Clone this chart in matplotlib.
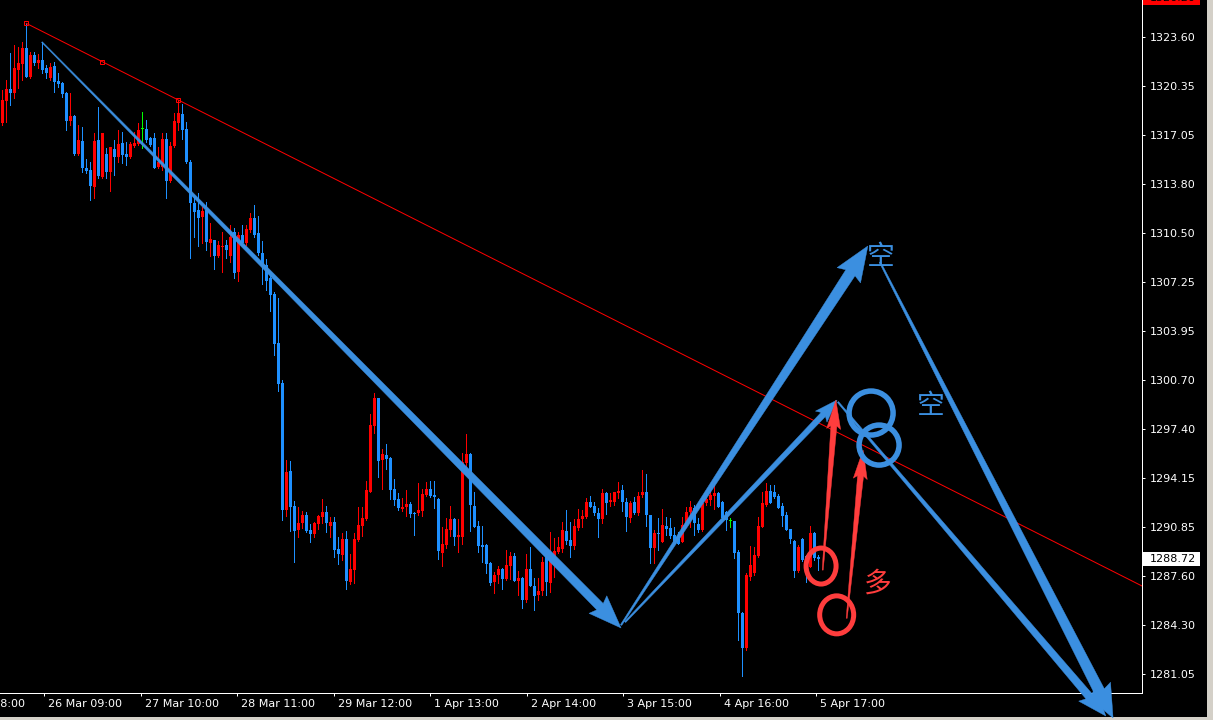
import matplotlib
matplotlib.use("Agg")
import matplotlib.pyplot as plt
from matplotlib.patches import Polygon, Ellipse, Rectangle
from matplotlib.transforms import IdentityTransform, blended_transform_factory
import numpy as np

plt.rcParams['font.family'] = ['DejaVu Sans']

# [Data] XAUUSD H1 candles, bar 0 = first visible bar
opens = [
    1317.83, 1319.32, 1320.12, 1319.84, 1321.39, 1321.77, 1322.84, 1320.95, 1322.40, 1321.88,
    1322.06, 1321.51, 1320.84, 1321.68, 1320.66, 1320.51, 1319.84, 1317.99, 1318.32, 1315.78,
    1316.65, 1314.83, 1314.71, 1313.56, 1316.72, 1314.27, 1315.76, 1314.60, 1316.10, 1315.56,
    1316.54, 1315.76, 1315.60, 1316.34, 1316.45, 1317.43, 1317.43, 1316.87, 1316.87, 1314.89,
    1314.93, 1316.78, 1314.00, 1316.32, 1317.83, 1318.45, 1317.45, 1315.27, 1312.53, 1312.04,
    1311.59, 1312.04, 1309.82, 1310.04, 1308.99, 1309.55, 1309.70, 1308.99, 1310.59, 1307.92,
    1310.37, 1309.82, 1310.71, 1311.53, 1310.53, 1309.19, 1308.37, 1307.48, 1306.43, 1303.18,
    1300.47, 1292.00, 1294.63, 1292.27, 1290.67, 1291.11, 1291.67, 1290.67, 1290.38, 1291.07,
    1291.55, 1291.89, 1290.95, 1291.18, 1289.40, 1289.00, 1290.06, 1287.21, 1288.00, 1290.00,
    1290.95, 1291.40, 1293.23, 1297.63, 1299.46, 1295.34, 1295.68, 1295.50, 1293.40, 1292.74,
    1292.09, 1292.22, 1292.40, 1291.80, 1291.78, 1291.95, 1293.00, 1293.40, 1293.00, 1292.74,
    1289.15, 1289.67, 1290.67, 1291.40, 1290.22, 1290.18, 1295.12, 1295.74, 1292.27, 1290.93,
    1289.66, 1289.66, 1288.44, 1287.17, 1287.66, 1288.06, 1287.39, 1288.28, 1288.93, 1287.28,
    1287.48, 1286.00, 1288.06, 1286.95, 1286.32, 1286.59, 1288.88, 1287.15, 1288.88, 1289.22,
    1289.40, 1290.60, 1290.00, 1289.60, 1290.80, 1291.40, 1291.55, 1292.56, 1292.27, 1291.82,
    1291.40, 1293.12, 1292.56, 1292.56, 1293.12, 1293.34, 1292.52, 1291.49, 1292.52, 1291.82,
    1293.00, 1293.23, 1291.67, 1289.44, 1290.49, 1289.88, 1290.93, 1290.78, 1290.33, 1290.11,
    1289.88, 1291.00, 1291.89, 1292.11, 1291.07, 1290.67, 1292.45, 1292.67, 1292.94, 1293.12,
    1292.56, 1291.89, 1291.27, 1291.27, 1289.22, 1285.14, 1282.76, 1287.55, 1287.81, 1288.93,
    1290.89, 1292.34, 1293.29, 1293.23, 1292.94, 1292.27, 1291.67, 1290.71, 1289.95, 1287.95,
    1290.04, 1288.93, 1288.22, 1290.49, 1288.88]
highs = [
    1320.06, 1320.73, 1322.51, 1323.06, 1322.95, 1323.28, 1324.51, 1322.62, 1322.62, 1322.44,
    1323.28, 1321.73, 1321.84, 1321.95, 1321.17, 1320.61, 1319.94, 1319.84, 1318.40, 1317.72,
    1317.61, 1315.45, 1315.27, 1317.17, 1318.94, 1317.17, 1316.16, 1316.27, 1316.72, 1317.39,
    1317.27, 1316.60, 1316.60, 1317.27, 1317.83, 1318.61, 1318.05, 1316.94, 1317.17, 1316.27,
    1317.17, 1317.17, 1316.60, 1318.50, 1319.39, 1319.10, 1317.90, 1315.38, 1313.04, 1313.16,
    1312.26, 1312.60, 1311.15, 1310.04, 1309.99, 1310.59, 1310.04, 1311.04, 1310.82, 1310.59,
    1311.04, 1311.04, 1311.82, 1312.38, 1311.64, 1309.99, 1308.77, 1307.70, 1306.58, 1306.14,
    1300.69, 1295.34, 1295.28, 1292.60, 1292.22, 1291.94, 1291.85, 1291.07, 1291.22, 1291.67,
    1292.74, 1292.27, 1291.51, 1291.55, 1290.18, 1290.45, 1290.60, 1289.06, 1290.45, 1292.22,
    1292.22, 1293.94, 1298.42, 1299.80, 1299.50, 1296.06, 1296.41, 1295.55, 1294.07, 1293.12,
    1292.78, 1293.34, 1292.56, 1291.89, 1293.79, 1293.40, 1293.89, 1293.94, 1293.94, 1292.80,
    1290.85, 1291.45, 1292.27, 1291.49, 1291.40, 1295.83, 1297.08, 1295.80, 1293.23, 1291.27,
    1290.93, 1289.73, 1288.50, 1287.88, 1288.26, 1288.15, 1289.33, 1289.18, 1289.15, 1287.95,
    1287.53, 1289.06, 1289.55, 1287.44, 1287.44, 1288.88, 1289.28, 1290.51, 1290.15, 1290.22,
    1291.18, 1292.00, 1291.22, 1291.40, 1292.05, 1292.00, 1292.78, 1292.94, 1292.56, 1292.11,
    1293.38, 1293.23, 1293.12, 1293.23, 1293.85, 1293.67, 1292.82, 1292.62, 1292.89, 1293.18,
    1294.67, 1294.41, 1291.70, 1290.67, 1291.45, 1292.05, 1291.55, 1291.45, 1290.89, 1290.55,
    1291.55, 1292.22, 1292.62, 1292.34, 1291.45, 1292.62, 1293.23, 1293.45, 1293.67, 1293.20,
    1292.60, 1291.92, 1291.49, 1291.30, 1289.33, 1285.17, 1287.77, 1289.60, 1289.55, 1291.55,
    1293.23, 1293.83, 1293.67, 1293.67, 1293.07, 1292.45, 1291.89, 1290.75, 1290.00, 1289.66,
    1290.11, 1289.00, 1290.93, 1290.55, 1289.00]
lows = [
    1317.72, 1317.94, 1319.06, 1319.50, 1320.17, 1320.73, 1320.95, 1320.84, 1321.73, 1321.51,
    1321.17, 1320.84, 1320.73, 1319.94, 1320.28, 1319.61, 1317.39, 1317.72, 1315.72, 1315.72,
    1314.60, 1314.49, 1312.71, 1312.82, 1314.16, 1314.16, 1314.16, 1313.31, 1314.38, 1315.27,
    1315.16, 1315.05, 1315.50, 1316.27, 1316.38, 1316.16, 1316.60, 1316.34, 1314.83, 1314.83,
    1314.71, 1312.86, 1313.93, 1316.27, 1317.39, 1316.78, 1315.16, 1308.82, 1310.26, 1309.66,
    1309.82, 1309.37, 1308.99, 1308.10, 1308.92, 1307.92, 1308.82, 1308.59, 1307.48, 1307.32,
    1309.70, 1309.70, 1310.59, 1310.26, 1309.04, 1307.10, 1306.70, 1305.32, 1302.36, 1299.97,
    1291.33, 1291.62, 1290.62, 1288.55, 1290.22, 1290.78, 1290.55, 1289.88, 1290.18, 1290.73,
    1291.11, 1290.55, 1290.18, 1288.88, 1288.40, 1288.66, 1286.72, 1287.06, 1287.15, 1289.95,
    1290.29, 1291.33, 1293.23, 1297.17, 1294.23, 1293.40, 1294.74, 1292.74, 1292.34, 1292.00,
    1291.94, 1291.60, 1291.56, 1290.33, 1291.67, 1291.62, 1292.94, 1292.85, 1292.16, 1288.73,
    1288.28, 1289.44, 1290.27, 1289.66, 1289.22, 1289.73, 1294.83, 1290.62, 1290.88, 1289.22,
    1288.55, 1287.77, 1286.99, 1286.48, 1287.11, 1286.70, 1287.35, 1287.37, 1287.28, 1286.32,
    1285.44, 1285.84, 1286.95, 1285.32, 1286.00, 1286.32, 1286.32, 1286.54, 1287.55, 1289.11,
    1289.18, 1289.73, 1288.88, 1289.40, 1290.67, 1290.89, 1291.45, 1292.22, 1291.67, 1290.22,
    1291.11, 1291.73, 1292.27, 1292.34, 1292.78, 1291.96, 1290.60, 1291.22, 1291.71, 1291.67,
    1292.89, 1290.93, 1288.48, 1288.44, 1289.33, 1289.85, 1290.33, 1290.11, 1289.78, 1289.73,
    1289.85, 1290.88, 1290.88, 1290.33, 1290.55, 1290.62, 1292.34, 1292.34, 1292.05, 1292.18,
    1291.33, 1290.67, 1290.89, 1288.78, 1283.32, 1280.91, 1282.65, 1287.33, 1287.66, 1288.88,
    1290.85, 1292.27, 1292.45, 1292.78, 1292.11, 1290.93, 1290.67, 1289.82, 1287.55, 1287.88,
    1288.62, 1287.21, 1288.20, 1288.66, 1287.99]
closes = [
    1319.39, 1320.12, 1319.84, 1321.51, 1321.84, 1322.84, 1320.95, 1322.40, 1321.84, 1322.06,
    1321.39, 1321.17, 1321.61, 1320.61, 1320.44, 1319.79, 1317.99, 1318.32, 1315.78, 1316.72,
    1314.83, 1314.67, 1313.66, 1316.65, 1314.31, 1317.17, 1314.60, 1316.27, 1315.60, 1316.45,
    1315.72, 1315.60, 1316.43, 1316.54, 1317.39, 1317.43, 1316.72, 1316.38, 1314.87, 1315.27,
    1316.78, 1314.00, 1316.32, 1317.99, 1318.50, 1317.39, 1315.23, 1312.53, 1311.93, 1311.53,
    1311.98, 1309.92, 1310.08, 1308.99, 1309.70, 1309.64, 1309.37, 1310.26, 1307.85, 1310.37,
    1309.82, 1310.77, 1311.53, 1310.37, 1309.15, 1308.37, 1307.30, 1306.36, 1303.09, 1300.42,
    1292.00, 1294.56, 1292.22, 1290.62, 1291.11, 1291.67, 1290.62, 1290.40, 1291.11, 1291.60,
    1291.89, 1291.11, 1291.22, 1289.33, 1289.06, 1290.06, 1287.26, 1288.06, 1290.06, 1291.00,
    1291.49, 1293.34, 1297.68, 1299.46, 1295.30, 1295.74, 1295.41, 1293.34, 1292.67, 1292.11,
    1292.20, 1292.40, 1291.73, 1291.75, 1292.00, 1293.07, 1293.40, 1292.96, 1292.85, 1289.28,
    1289.73, 1290.73, 1291.40, 1290.22, 1290.33, 1295.23, 1295.72, 1292.34, 1290.89, 1289.60,
    1289.55, 1288.40, 1287.15, 1287.66, 1288.06, 1287.39, 1288.33, 1288.93, 1287.28, 1287.48,
    1286.00, 1288.06, 1286.95, 1286.28, 1286.59, 1288.51, 1287.21, 1288.88, 1289.28, 1289.55,
    1290.67, 1289.93, 1289.60, 1290.93, 1291.40, 1291.60, 1292.56, 1292.22, 1291.78, 1291.40,
    1293.12, 1292.49, 1292.67, 1293.23, 1293.27, 1292.52, 1291.55, 1292.45, 1291.82, 1292.96,
    1293.23, 1291.67, 1289.44, 1290.49, 1290.38, 1291.00, 1290.73, 1290.27, 1289.88, 1289.73,
    1291.00, 1291.89, 1292.22, 1291.11, 1290.67, 1292.45, 1292.72, 1293.00, 1293.12, 1292.22,
    1291.45, 1291.33, 1291.27, 1289.15, 1285.10, 1282.80, 1287.66, 1288.33, 1289.00, 1290.93,
    1292.45, 1293.29, 1292.49, 1292.89, 1292.16, 1291.60, 1290.67, 1290.04, 1287.95, 1289.55,
    1288.66, 1287.95, 1290.45, 1288.78, 1288.72]

# time scale labels (bar position of each label)
time_ticks = [-13.75, 10.5, 34.75, 58.75, 83, 107, 131.25, 155.25, 179.5, 203.5]
time_labels = ["25 Mar 08:00", "26 Mar 09:00", "27 Mar 10:00", "28 Mar 11:00", "29 Mar 12:00",
               "1 Apr 13:00", "2 Apr 14:00", "3 Apr 15:00", "4 Apr 16:00", "5 Apr 17:00"]

# price scale
price_ticks = [1323.60, 1320.35, 1317.05, 1313.80, 1310.50, 1307.25, 1303.95,
               1300.70, 1297.40, 1294.15, 1290.85, 1287.60, 1284.30, 1281.05]
last_price = 1288.72
top_level = 1326.20

# red trend line (bar, price)
trend_a = (6, 1324.51)
trend_b = (44, 1319.39)

# hand drawn arrows: (tail bar, tail price, tip bar, tip price)
blue_arrows = [
    (9.9, 1323.26, 154.7, 1284.12),
    (154.7, 1284.32, 216.4, 1309.64),
    (155.7, 1284.52, 208.7, 1299.35),
    (219.4, 1308.57, 277.7, 1278.11),
    (208.9, 1299.22, 275.9, 1278.24),
]
red_arrows = [
    (205.1, 1287.99, 208.4, 1299.35),
    (211.1, 1284.77, 215.2, 1296.01),
]
# circles: (bar, price)
red_circles = [(204.7, 1288.26), (208.6, 1285.00)]
blue_circles = [(217.2, 1298.48), (219.2, 1296.34)]
# notes: (bar, price, text)
notes = [(219.5, 1308.87, "空", "blue"), (232.0, 1298.98, "空", "blue"), (218.9, 1287.06, "多", "red")]

BULL = "#ff0000"
BEAR = "#1e90ff"
DOJI = "#00ff00"
PEN_BLUE = "#3b8fe0"
PEN_RED = "#ff3d3d"

W, H = 1213, 720
fig = plt.figure(figsize=(W / 100, H / 100), dpi=100, facecolor="black")
ax = fig.add_axes([0, 27 / H, 1142 / W, 693 / H], facecolor="black")
ax.set_xlim(-0.575, 284.93)
ax.set_ylim(1279.78, 1326.07)

PX = 72 / 100  # one pixel in points

# [drawing] -- candles
o = np.array(opens); h = np.array(highs); l = np.array(lows); c = np.array(closes)
x = np.arange(len(o))
colors = np.where(c > o, BULL, np.where(c < o, BEAR, DOJI))
ax.vlines(x, l, h, colors=colors, lw=PX, antialiased=False, zorder=2)
ax.bar(x, np.maximum(np.abs(c - o), 0.07), bottom=np.minimum(o, c), width=0.85,
       color=colors, lw=0, antialiased=False, zorder=2)

# trend line with its three handles
slope = (trend_b[1] - trend_a[1]) / (trend_b[0] - trend_a[0])
x_end = ax.get_xlim()[1]
ax.plot([trend_a[0], x_end], [trend_a[1], trend_a[1] + slope * (x_end - trend_a[0])],
        color="red", lw=PX, zorder=3)
mid = ((trend_a[0] + trend_b[0]) / 2, (trend_a[1] + trend_b[1]) / 2)
ax.plot([trend_a[0], mid[0], trend_b[0]], [trend_a[1], mid[1], trend_b[1]], "s",
        ms=5 * PX, mfc="none", mec="red", mew=PX, zorder=3)

# axes look (MT4 style)
for s in ["left", "top"]:
    ax.spines[s].set_visible(False)
for s in ["right", "bottom"]:
    ax.spines[s].set_color("white")
    ax.spines[s].set_linewidth(PX)
ax.yaxis.tick_right()
ax.set_yticks(price_ticks)
ax.set_yticklabels([f"{v:.2f}" for v in price_ticks])
ax.tick_params(axis="y", colors="white", labelsize=8, length=3 * PX, width=PX, pad=3.5)
ax.set_xticks(time_ticks[1:])
ax.tick_params(axis="x", colors="white", length=3 * PX, width=PX, labelbottom=False)
for b, t in zip(time_ticks, time_labels):
    ax.annotate(t, xy=(b, 0), xycoords=("data", "axes fraction"), xytext=(3, -8),
                textcoords="offset points", ha="left", va="center", color="white",
                fontsize=8, annotation_clip=False)

# price boxes on the scale
bt = blended_transform_factory(ax.transAxes, ax.transData)
for val, face in [(last_price, "white"), (top_level, "red")]:
    ax.add_patch(Rectangle((1.0009, val - 0.47), 57 / 1142, 0.94, transform=bt,
                           facecolor=face, edgecolor="none", clip_on=False, zorder=4))
    ax.text(1150 / 1142, val, f"{val:.2f}", transform=bt, color="black", fontsize=8,
            va="center", ha="left", clip_on=False, zorder=5)

# window frame
fig.add_artist(Rectangle((1207, 0), 6, H, transform=IdentityTransform(),
                         facecolor="#d4d0c8", edgecolor="none"))
fig.add_artist(Rectangle((0, 0), 1207, 3, transform=IdentityTransform(),
                         facecolor="#d4d0c8", edgecolor="none"))


def to_px(bar, price):
    return ax.transData.transform((bar, price))


def taper_arrow(a, color, w0, w1, hw, hl):
    p0 = to_px(a[0], a[1])
    p1 = to_px(a[2], a[3])
    d = p1 - p0
    u = d / np.hypot(*d)
    n = np.array([-u[1], u[0]])
    b = p1 - u * hl
    pts = [p0 + n * w0 / 2, b + n * w1 / 2, b - u * 3 + n * hw / 2, p1,
           b - u * 3 - n * hw / 2, b - n * w1 / 2, p0 - n * w0 / 2]
    fig.add_artist(Polygon(pts, closed=True, transform=IdentityTransform(),
                           facecolor=color, edgecolor=color, lw=0.3, zorder=5))


# blue arrows
taper_arrow(blue_arrows[0], PEN_BLUE, 1, 9, 25, 30)
taper_arrow(blue_arrows[1], PEN_BLUE, 1.5, 11, 28, 32)
taper_arrow(blue_arrows[2], PEN_BLUE, 1.5, 6, 16, 20)
taper_arrow(blue_arrows[3], PEN_BLUE, 1.5, 11, 28, 30)
taper_arrow(blue_arrows[4], PEN_BLUE, 1.5, 8, 22, 26)
# red arrows
for a in red_arrows:
    taper_arrow(a, PEN_RED, 1, 6, 14, 26)

# circles
for (bx, py), rx, ry in zip(red_circles, [15, 17], [18, 19]):
    fig.add_artist(Ellipse(to_px(bx, py), 2 * rx, 2 * ry, transform=IdentityTransform(),
                           fill=False, edgecolor=PEN_RED, lw=5 * PX, zorder=6))
for (bx, py), r in zip(blue_circles, [22, 20]):
    fig.add_artist(Ellipse(to_px(bx, py), 2 * r, 2 * r, transform=IdentityTransform(),
                           fill=False, edgecolor=PEN_BLUE, lw=5.5 * PX, zorder=6))

# notes
for bx, py, t, col in notes:
    ax.text(bx, py, t, color=PEN_BLUE if col == "blue" else PEN_RED, fontsize=20,
            family=["Noto Sans CJK SC"], ha="center", va="center", clip_on=False, zorder=7)

fig.savefig("out.png", dpi=100, facecolor="black")
